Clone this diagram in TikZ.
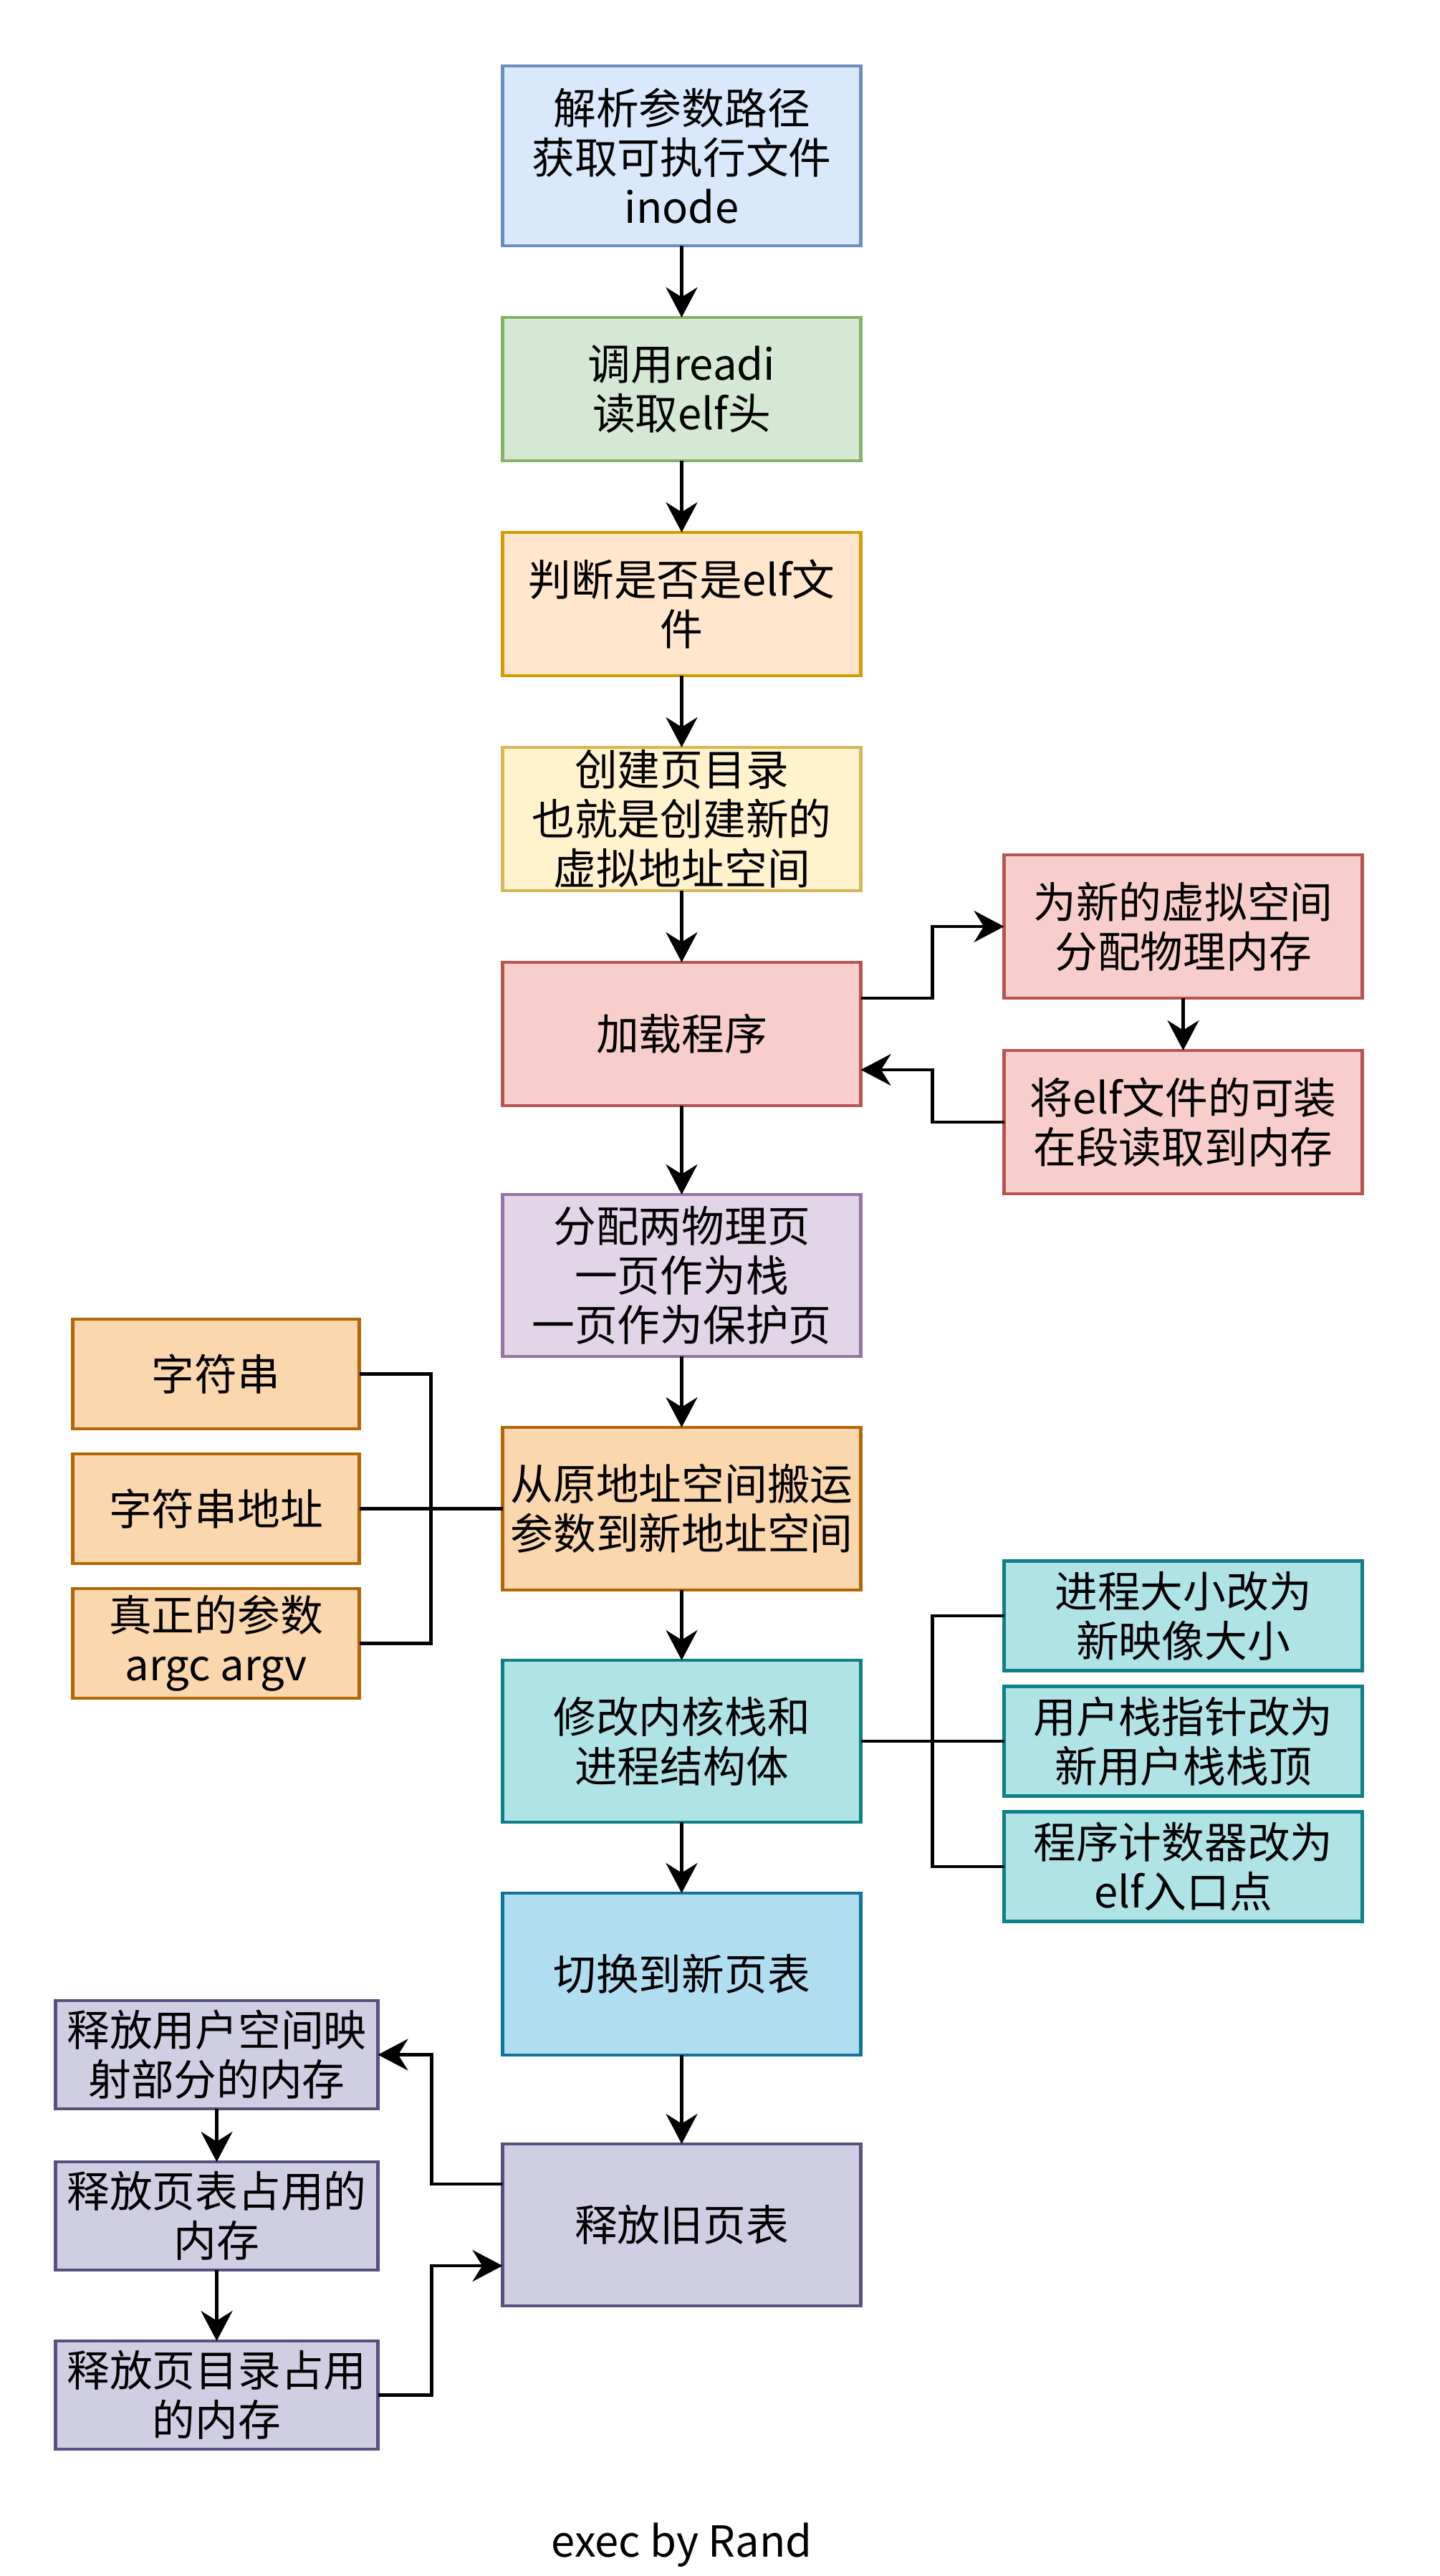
\documentclass[tikz,border=0pt]{standalone}
\usepackage{fontspec}
\setmainfont{Noto Sans CJK SC}
\usetikzlibrary{arrows.meta}
\definecolor{blueF}{HTML}{DAE8FC}\definecolor{blueD}{HTML}{6C8EBF}
\definecolor{greenF}{HTML}{D5E8D4}\definecolor{greenD}{HTML}{82B366}
\definecolor{orangeF}{HTML}{FFE6CC}\definecolor{orangeD}{HTML}{D79B00}
\definecolor{yellowF}{HTML}{FFF2CC}\definecolor{yellowD}{HTML}{D6B656}
\definecolor{redF}{HTML}{F8CECC}\definecolor{redD}{HTML}{B85450}
\definecolor{purpleF}{HTML}{E1D5E7}\definecolor{purpleD}{HTML}{9673A6}
\definecolor{argF}{HTML}{FAD7AC}\definecolor{argD}{HTML}{B46504}
\definecolor{tealF}{HTML}{B0E3E6}\definecolor{tealD}{HTML}{0E8088}
\definecolor{skyF}{HTML}{B1DDF0}\definecolor{skyD}{HTML}{10739E}
\definecolor{lavF}{HTML}{D0CEE2}\definecolor{lavD}{HTML}{56517E}
\begin{document}
\begin{tikzpicture}[procbox/.style={draw,line width=1.2pt,minimum width=5cm,minimum height=2cm,align=center,inner sep=1pt,outer sep=0pt},
	flow/.style={line width=1.2pt,-{Stealth[length=4.2mm,width=4.4mm]}},
	link/.style={line width=1.2pt}]
	\fontsize{17}{19.6}\selectfont
	\useasboundingbox (0,0) rectangle (20.1,-35.95);
	% main column
	\node[procbox,fill=blueF,draw=blueD,minimum height=2.51cm] (parse) at (9.515,-2.175) {解析参数路径\\获取可执行文件\\inode};
	\node[procbox,fill=greenF,draw=greenD,anchor=north] at ([yshift=-1cm]parse.south)	(readi) {调用readi\\读取elf头};
	\node[procbox,fill=orangeF,draw=orangeD,anchor=north] at ([yshift=-1cm]readi.south)	(check) {判断是否是elf文\\件};
	\node[procbox,fill=yellowF,draw=yellowD,anchor=north] at ([yshift=-1cm]check.south)	(pgdir) {创建页目录\\也就是创建新的\\虚拟地址空间};
	\node[procbox,fill=redF,draw=redD,anchor=north] at ([yshift=-1cm]pgdir.south)		(load) {加载程序};
	\node[procbox,fill=purpleF,draw=purpleD,anchor=north,minimum height=2.26cm] at ([yshift=-1.24cm]load.south)	(stack) {分配两物理页\\一页作为栈\\一页作为保护页};
	\node[procbox,fill=argF,draw=argD,anchor=north,minimum height=2.27cm] at ([yshift=-0.99cm]stack.south)	(copyarg) {从原地址空间搬运\\参数到新地址空间};
	\node[procbox,fill=tealF,draw=tealD,anchor=north,minimum height=2.26cm] at ([yshift=-0.98cm]copyarg.south)	(modify) {修改内核栈和\\进程结构体};
	\node[procbox,fill=skyF,draw=skyD,anchor=north,minimum height=2.26cm] at ([yshift=-0.99cm]modify.south)	(switch) {切换到新页表};
	\node[procbox,fill=lavF,draw=lavD,anchor=north,minimum height=2.26cm] at ([yshift=-1.24cm]switch.south)	(freeold) {释放旧页表};
	\node[anchor=base] at ([yshift=-3.5cm]freeold.south)	(credit) {exec by Rand};
	% load program
	\node[procbox,fill=redF,draw=redD,anchor=south west] at ([xshift=2cm,yshift=-0.5cm]load.north east)	(alloc) {为新的虚拟空间\\分配物理内存};
	\node[procbox,fill=redF,draw=redD,anchor=north west] at ([yshift=-0.73cm]alloc.south west)	(loadseg) {将elf文件的可装\\在段读取到内存};
	% arguments
	\node[procbox,fill=argF,draw=argD,anchor=east,minimum width=4cm,minimum height=1.53cm] at ([xshift=-2cm]copyarg.west)	(straddr) {字符串地址};
	\node[procbox,fill=argF,draw=argD,minimum width=4cm,minimum height=1.53cm] at ([yshift=1.88cm]straddr)	(str) {字符串};
	\node[procbox,fill=argF,draw=argD,minimum width=4cm,minimum height=1.53cm] at ([yshift=-1.88cm]straddr)	(argv) {真正的参数\\argc argv};
	\coordinate (argbus) at ([xshift=-1cm]copyarg.west);
	% process fields
	\node[procbox,fill=tealF,draw=tealD,anchor=west,minimum height=1.53cm] at ([xshift=2cm]modify.east)	(usp) {用户栈指针改为\\新用户栈栈顶};
	\node[procbox,fill=tealF,draw=tealD,minimum height=1.53cm] at ([yshift=1.75cm]usp)	(size) {进程大小改为\\新映像大小};
	\node[procbox,fill=tealF,draw=tealD,minimum height=1.53cm] at ([yshift=-1.75cm]usp)	(pc) {程序计数器改为\\elf入口点};
	\coordinate (procbus) at ([xshift=1cm]modify.east);
	% freeing
	\node[procbox,fill=lavF,draw=lavD,anchor=east,minimum width=4.5cm,minimum height=1.51cm] at ([xshift=-1.74cm,yshift=0.125cm]freeold.west)	(freept) {释放页表占用的\\内存};
	\node[procbox,fill=lavF,draw=lavD,minimum width=4.5cm,minimum height=1.51cm] at ([yshift=2.25cm]freept)	(freeuser) {释放用户空间映\\射部分的内存};
	\node[procbox,fill=lavF,draw=lavD,minimum width=4.5cm,minimum height=1.51cm] at ([yshift=-2.5cm]freept)	(freedir) {释放页目录占用\\的内存};
	\draw[flow] (parse) -- (readi);
	\draw[flow] (readi) -- (check);
	\draw[flow] (check) -- (pgdir);
	\draw[flow] (pgdir) -- (load);
	\draw[flow] (load) -- (stack);
	\draw[flow] (stack) -- (copyarg);
	\draw[flow] (copyarg) -- (modify);
	\draw[flow] (modify) -- (switch);
	\draw[flow] (switch) -- (freeold);
	\draw[flow] (load.east |- alloc.south) -- ++(1,0) |- (alloc.west);
	\draw[flow] (alloc) -- (loadseg);
	\draw[flow] (loadseg.west) -- ++(-1,0) |- ([yshift=-0.5cm]load.east);
	\draw[link] (str.east) -| (argbus) |- (argv.east);
	\draw[link] (straddr.east) -- (copyarg.west);
	\draw[link] (size.west) -| (procbus) |- (pc.west);
	\draw[link] (modify.east) -- (usp.west);
	\draw[flow] ([yshift=0.57cm]freeold.west) -- ++(-0.99,0) |- (freeuser.east);
	\draw[flow] (freeuser) -- (freept);
	\draw[flow] (freept) -- (freedir);
	\draw[flow] (freedir.east) -- ++(0.75,0) |- ([yshift=-0.57cm]freeold.west);
\end{tikzpicture}
\end{document}
